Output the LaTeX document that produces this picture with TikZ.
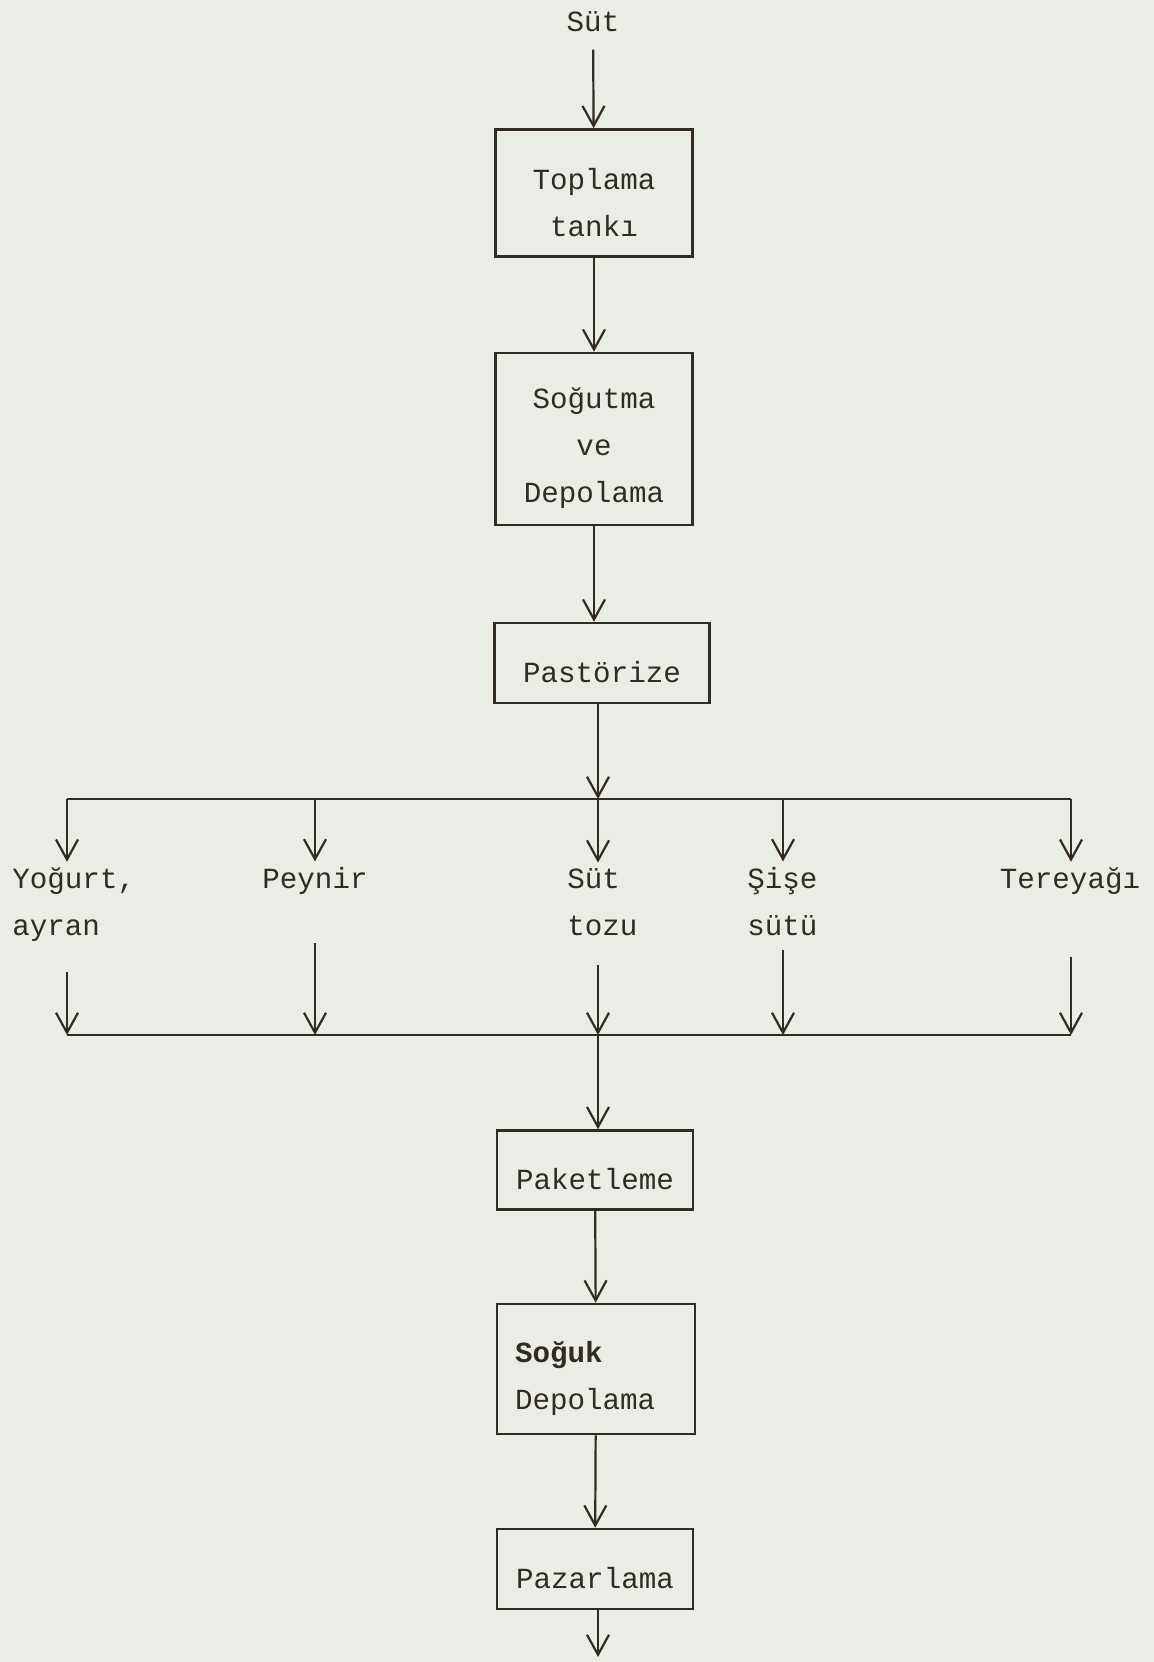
\documentclass[tikz,border=0pt]{standalone}
\usepackage{fontspec}
\setmonofont{Liberation Mono}
\usetikzlibrary{arrows.meta}
\definecolor{paper}{RGB}{234,237,229}
\definecolor{ink}{RGB}{50,42,36}
\newcommand\typefont{\ttfamily\fontsize{14.6}{23.5}\selectfont}
\newcommand\typedrop{\rule{0pt}{20pt}}

\begin{document}
\begin{tikzpicture}[x=0.5pt,y=-0.5pt,
  box/.style={draw=ink,line width=1.3pt,text=ink,font=\typefont,align=center,inner sep=0pt},
  lbl/.style={text=ink,font=\typefont,inner sep=2.5pt},
  flow/.style={draw=ink,line width=1.1pt,-{Straight Barb[length=10pt,width=11pt]}},
  bus/.style={draw=ink,line width=1.1pt}]
  \path[use as bounding box,fill=paper] (0,0) rectangle (1154,1662);

  % main column
  \node[lbl] (sut) at (593,22) {Süt};
  \node[box,minimum width=98.5pt,minimum height=63.5pt] (toplama) at (594,193) {\typedrop Toplama\\tankı};
  \node[box,minimum width=98.5pt,minimum height=86pt] (sogutma) at (594,439) {\typedrop Soğutma\\ve\\Depolama};
  \node[box,minimum width=107.5pt,minimum height=40pt] (pastorize) at (602,663) {\typedrop Pastörize};

  % fork and join points
  \foreach \n/\xx in {a/67,b/315,c/598,d/783,e/1071}{
    \coordinate (up\n) at (\xx,799);
    \coordinate (dn\n) at (\xx,1035);
  }
  \coordinate (out) at (598,1657);

  \node[box,minimum width=98pt,minimum height=39.5pt] (paketleme) at (595,1170) {\typedrop Paketleme};
  \node[box,minimum width=99pt,minimum height=65pt,text width=81pt,align=left] (soguk) at (596,1369) {\typedrop\textbf{Soğuk}\\Depolama};
  \node[box,minimum width=98pt,minimum height=40pt] (pazarlama) at (595,1569) {\typedrop Pazarlama};

  % products
  \node[lbl,anchor=base west,align=left] (yogurt) at (7,935) {Yoğurt,\\ayran};
  \node[lbl,anchor=base] (peynir) at (315,888) {Peynir};
  \node[lbl,anchor=base west,align=left] (toz) at (562,935) {Süt\\tozu};
  \node[lbl,anchor=base west,align=left] (sise) at (742,935) {Şişe\\sütü};
  \node[lbl,anchor=base] (tereyag) at (1070,888) {Tereyağı};

  \draw[flow,shorten <=6pt] (sut) -- (toplama);
  \draw[flow] (toplama) -- (sogutma);
  \draw[flow] (sogutma.south) -- (sogutma.south |- pastorize.north);
  \draw[flow] (pastorize.south -| upc) -- (upc);

  \draw[bus] (upa) -- (upe);
  \draw[flow] (upa) -- (upa |- yogurt.north);
  \draw[flow] (upb) -- (upb |- peynir.north);
  \draw[flow] (upc) -- (upc |- toz.north);
  \draw[flow] (upd) -- (upd |- sise.north);
  \draw[flow] (upe) -- (upe |- tereyag.north);

  \draw[flow,shorten <=13pt] (dna |- yogurt.south) -- (dna);
  \draw[flow,shorten <=22pt] (dnb |- peynir.south) -- (dnb);
  \draw[flow,shorten <=12pt] (dnc |- toz.south) -- (dnc);
  \draw[flow,shorten <=4.5pt] (dnd |- sise.south) -- (dnd);
  \draw[flow,shorten <=29pt] (dne |- tereyag.south) -- (dne);
  \draw[bus] (dna) -- (dne);

  \draw[flow] (dnc) -- (dnc |- paketleme.north);
  \draw[flow] (paketleme) -- (soguk);
  \draw[flow] (soguk) -- (pazarlama);
  \draw[flow] (pazarlama.south -| out) -- (out);
\end{tikzpicture}
\end{document}
